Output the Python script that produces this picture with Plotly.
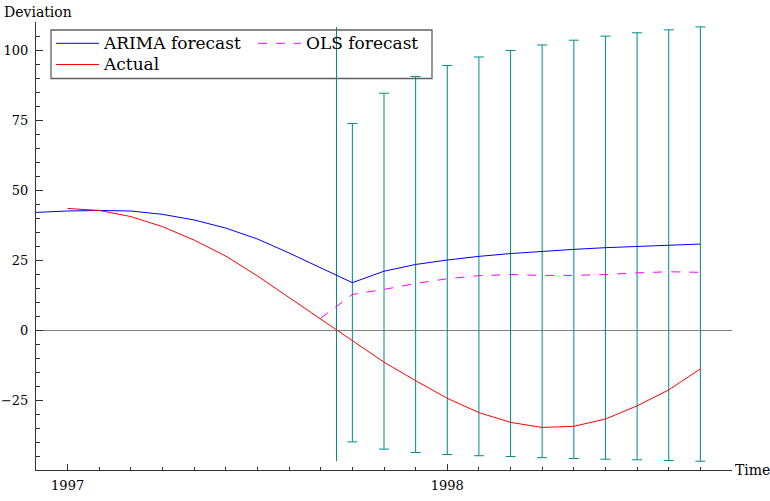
import plotly.graph_objects as go

# ---------------- data ----------------
arima_months = ["1996-12", "1997-01", "1997-02", "1997-03", "1997-04", "1997-05",
                "1997-06", "1997-07", "1997-08", "1997-09", "1997-10", "1997-11",
                "1997-12", "1998-01", "1998-02", "1998-03", "1998-04", "1998-05",
                "1998-06", "1998-07", "1998-08", "1998-09"]
arima_values = [42.0, 42.5, 42.7, 42.5, 41.3, 39.3, 36.4, 32.5, 27.5, 22.2, 16.9, 21.0,
                23.4, 25.0, 26.3, 27.3, 28.1, 28.8, 29.4, 29.9, 30.3, 30.7]

actual_months = arima_months[1:]
actual_values = [43.4, 42.7, 40.5, 36.9, 32.1, 26.4, 19.3, 11.6, 4.2, -3.6, -11.5,
                 -18.1, -24.4, -29.5, -33.0, -34.8, -34.4, -31.8, -27.1, -21.4, -13.9]

ols_months = arima_months[9:]
ols_values = [4.2, 12.7, 14.5, 16.6, 18.3, 19.4, 19.8, 19.5, 19.5, 19.8, 20.4, 20.8, 20.6]

forecast_months = arima_months[10:]
interval_halfwidth = [56.85, 63.55, 67.15, 69.45, 71.2, 72.5, 73.7, 74.7, 75.55,
                      76.25, 76.9, 77.55]

forecast_split = 1997.7083  # vertical marker between Sep and Oct 1997

x_ticks = [1997, 1998]
x_ticktext = ["1997", "1998"]
y_ticks = [-25, 0, 25, 50, 75, 100]


def to_year(m):
    y, mo = m.split("-")
    return int(y) + (int(mo) - 1) / 12.0


xa = [to_year(m) for m in arima_months]
xact = [to_year(m) for m in actual_months]
xols = [to_year(m) for m in ols_months]
xf = [to_year(m) for m in forecast_months]
yf = arima_values[len(arima_values) - len(forecast_months):]
lower = [c - h for c, h in zip(yf, interval_halfwidth)]
upper = [c + h for c, h in zip(yf, interval_halfwidth)]

TEAL = "#008b8b"
FONT = "DejaVu Serif"


def lname(s):
    return '<span style="font-size:17px">' + s + "</span>"


fig = go.Figure()

# error bars
fig.add_trace(go.Scatter(
    x=xf, y=yf, mode="markers",
    marker=dict(size=1, color="rgba(0,0,0,0)"),
    error_y=dict(type="data", array=interval_halfwidth, symmetric=True,
                 color=TEAL, thickness=1, width=5),
    showlegend=False, hoverinfo="skip"))

# vertical separator line
fig.add_trace(go.Scatter(
    x=[forecast_split, forecast_split], y=[min(lower), max(upper)],
    mode="lines", line=dict(color=TEAL, width=1),
    showlegend=False, hoverinfo="skip"))

fig.add_trace(go.Scatter(x=xa, y=arima_values, mode="lines", name=lname("ARIMA forecast"),
                         line=dict(color="#0000ff", width=1), legend="legend"))
fig.add_trace(go.Scatter(x=xols, y=ols_values, mode="lines", name=lname("OLS forecast"),
                         line=dict(color="#ff00ff", width=1, dash="dash"), legend="legend2"))
fig.add_trace(go.Scatter(x=xact, y=actual_values, mode="lines", name=lname("Actual"),
                         line=dict(color="#ff0000", width=1), legend="legend"))

axis_col = "#333333"
L, R, T, B = 36, 38, 22, 31
PW, PH = 770 - L - R, 501 - T - B


def px(xpix):
    return (xpix - L) / PW


def py(ypix):
    return (T + PH - ypix) / PH


legend_common = dict(orientation="v", xanchor="left", yanchor="top",
                     bgcolor="rgba(0,0,0,0)", borderwidth=0,
                     font=dict(family=FONT, size=14, color="black"),
                     itemwidth=43, traceorder="normal")

fig.update_layout(
    width=770, height=501,
    margin=dict(l=L, r=R, t=T, b=B, autoexpand=False),
    paper_bgcolor="white", plot_bgcolor="white",
    font=dict(family=FONT, size=13, color="black"),
    xaxis=dict(range=[1996 + 11 / 12, 1998.75], tickmode="array",
               tickvals=x_ticks, ticktext=x_ticktext, automargin=False,
               ticks="inside", ticklen=6, tickwidth=1, tickcolor=axis_col,
               showline=True, linecolor=axis_col, linewidth=1,
               showgrid=False, zeroline=False, ticklabelstandoff=3,
               minor=dict(tickmode="linear", tick0=1997, dtick=1 / 12,
                          ticks="inside", ticklen=3, tickcolor=axis_col, showgrid=False),
               tickfont=dict(family=FONT, size=13, color="black")),
    yaxis=dict(range=[-50, 110], tickmode="array", tickvals=y_ticks, automargin=False,
               ticks="inside", ticklen=7, tickwidth=1, tickcolor=axis_col,
               showline=True, linecolor=axis_col, linewidth=1,
               showgrid=False, zeroline=True, zerolinecolor="#808080", zerolinewidth=1,
               ticklabelstandoff=4,
               minor=dict(tickmode="linear", tick0=0, dtick=5,
                          ticks="inside", ticklen=4, tickcolor=axis_col, showgrid=False),
               tickfont=dict(family=FONT, size=13, color="black")),
    legend=dict(x=px(51), y=py(27.7), **legend_common),
    legend2=dict(x=px(253), y=py(27.7), **legend_common),
    shapes=[dict(type="rect", xref="paper", yref="paper",
                 x0=px(51), x1=px(432), y0=py(78.5), y1=py(30),
                 line=dict(color="#606060", width=1.3), fillcolor="rgba(0,0,0,0)",
                 layer="above")],
    annotations=[
        dict(text="Deviation", xref="paper", yref="paper", x=0, y=1,
             xanchor="left", yanchor="bottom", xshift=-34, showarrow=False,
             font=dict(family=FONT, size=14, color="black")),
        dict(text="Time", xref="paper", yref="paper", x=1, y=0,
             xanchor="left", yanchor="middle", xshift=1, showarrow=False,
             font=dict(family=FONT, size=14, color="black")),
    ],
)

fig.write_html("out.html")
